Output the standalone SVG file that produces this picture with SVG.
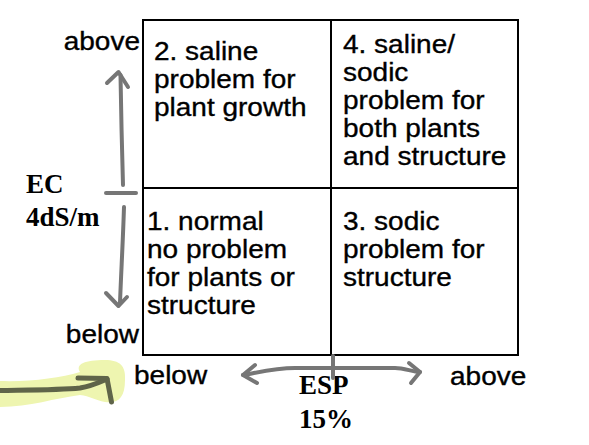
<svg xmlns="http://www.w3.org/2000/svg" width="589" height="445" viewBox="0 0 589 445">
<style>
.cell{fill:#fff;stroke:#000;stroke-width:2}
.t{font-family:"Liberation Sans",Arial,sans-serif;font-size:25px;fill:#000;stroke:#000;stroke-width:0.35}
.b{font-family:"Liberation Serif","Times New Roman",serif;font-size:27px;font-weight:bold;fill:#000}
.arr{fill:none;stroke:#767676;stroke-width:4;stroke-linecap:round;stroke-linejoin:round}
.dk{fill:none;stroke:#5f6449;stroke-width:5;stroke-linecap:round;stroke-linejoin:round}
</style>
<rect width="589" height="445" fill="#fff"/>
<g id="cell2">
<rect class="cell" x="143" y="20" width="188" height="168"/>
<text class="t" transform="translate(154,60) scale(1.12,1)"><tspan x="0" y="0">2. saline</tspan><tspan x="0" y="28">problem for</tspan><tspan x="0" y="56">plant growth</tspan></text>
</g>
<g id="cell4">
<rect class="cell" x="331" y="20" width="187" height="168"/>
<text class="t" transform="translate(343,53) scale(1.12,1)"><tspan x="0" y="0">4. saline/</tspan><tspan x="0" y="28">sodic</tspan><tspan x="0" y="56">problem for</tspan><tspan x="0" y="84">both plants</tspan><tspan x="0" y="112">and structure</tspan></text>
</g>
<g id="cell1">
<rect class="cell" x="143" y="188" width="188" height="167"/>
<text class="t" transform="translate(147,230) scale(1.12,1)"><tspan x="0" y="0">1. normal</tspan><tspan x="0" y="28">no problem</tspan><tspan x="0" y="56">for plants or</tspan><tspan x="0" y="84">structure</tspan></text>
</g>
<g id="cell3">
<rect class="cell" x="331" y="188" width="187" height="167"/>
<text class="t" transform="translate(343,230) scale(1.12,1)"><tspan x="0" y="0">3. sodic</tspan><tspan x="0" y="28">problem for</tspan><tspan x="0" y="56">structure</tspan></text>
</g>
<g id="labels">
<text class="t" text-anchor="end" transform="translate(140,50) scale(1.12,1)">above</text>
<text class="t" text-anchor="end" transform="translate(139,343) scale(1.12,1)">below</text>
<text class="t" transform="translate(134,384) scale(1.12,1)">below</text>
<text class="t" transform="translate(450,385) scale(1.12,1)">above</text>
<text class="b" x="26" y="193">EC</text>
<text class="b" x="26" y="226">4dS/m</text>
<text class="b" x="299" y="394">ESP</text>
<text class="b" x="299" y="428">15%</text>
</g>
<g id="highlight">
<path d="M0,381 C30,382 60,378 80,372 C75,364 85,360 105,360 C120,360 126,366 125,380 C125,398 118,404 105,402 C95,400 90,396 80,395 C55,398 30,407 0,407 Z" fill="#eef5b0"/>
</g>
<g id="connectors">
<path class="arr" d="M123,185 C122,150 121,110 120.5,75"/>
<path class="arr" d="M107,83 L118.5,72 L128,87"/>
<path class="arr" d="M106,193 L136,193"/>
<path class="arr" d="M124,207 C123,240 121,275 120,303"/>
<path class="arr" d="M106,293 L118.5,306 L127,297"/>
<path class="arr" d="M243,375 C260,372 275,368 295,368 L395,368 C405,368 412,372 420,372"/>
<path class="arr" d="M255,365 L243,375 L257,383"/>
<path class="arr" d="M409,363 L420,372 L411,383"/>
<path class="arr" d="M333,356 L333,378"/>
<path class="dk" d="M0,390.5 C30,390 60,390 80,388 C92,386 100,382 107,379"/>
<path class="dk" d="M78,378 L107,378.5 L111.5,402"/>
</g>
</svg>
